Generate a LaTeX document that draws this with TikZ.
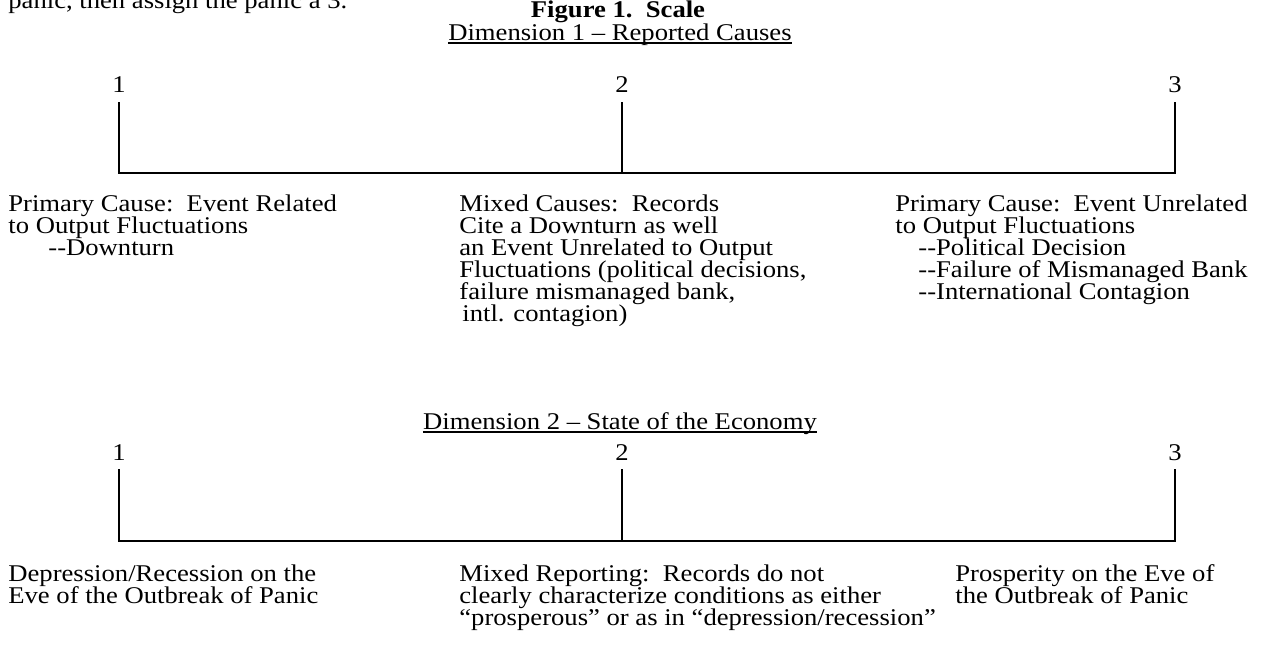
\documentclass[tikz,border=0pt]{standalone}
\usepackage{fontspec}
\setmainfont{Liberation Serif}[FakeStretch=1.11]
% lines at a fixed distance, baseline of the first line
\newcommand{\sorok}[1]{\vtop{\baselineskip=11pt\lineskiplimit=-100pt
  \let\\=\cr\halign{##\hfil\cr#1\crcr}}}
\tikzset{
  szam/.style={anchor=base,inner sep=0pt},
  cim/.style={anchor=base,inner sep=0pt},
  blokk/.style={anchor=base west,inner sep=0pt},
  vonal/.style={line width=0.8pt},
  alah/.style={line width=0.6pt},
}

\begin{document}
\begin{tikzpicture}[x=0.5pt,y=-0.5pt,font=\fontsize{12}{11}\selectfont]
  \useasboundingbox (0,0) rectangle (1270,649);
  \clip (0,0) rectangle (1270,649);
  % line of the page above, cut by the edge
  \node[blokk] (elo) at (8,8) {panic, then assign the panic a 3.};
  \node[cim,font=\fontsize{12}{11}\selectfont\bfseries] (fig) at (618,17) {Figure 1.\ \ Scale};

  % Dimension 1
  \node[cim] (dim1) at (620,40) {Dimension 1 -- Reported Causes};
  \draw[alah] ([yshift=-1.5pt]dim1.base west) -- ([yshift=-1.5pt]dim1.base east);
  \foreach \n/\x in {1/119,2/622,3/1175}{
    \node[szam] (a\n) at (\x,92) {\n};
    \coordinate (ta\n) at (\x,102);
    \coordinate (ba\n) at (\x,173);
  }
  \draw[vonal] (ta1) -- (ba1) -- (ba3) -- (ta3);
  \draw[vonal] (ta2) -- (ba2);
  \node[blokk] (ka1) at (8,211) {\sorok{Primary Cause:\ \ Event Related\\
    to Output Fluctuations\\
    \hspace*{20pt}-{}-Downturn}};
  \node[blokk] (ka2) at (459,211) {\sorok{Mixed Causes:\ \ Records\\
    Cite a Downturn as well\\
    an Event Unrelated to Output\\
    Fluctuations (political decisions,\\
    failure mismanaged bank,\\
    \hspace*{1.5pt}intl. contagion)}};
  \node[blokk] (ka3) at (895,211) {\sorok{Primary Cause:\ \ Event Unrelated\\
    to Output Fluctuations\\
    \hspace*{11.5pt}-{}-Political Decision\\
    \hspace*{11.5pt}-{}-Failure of Mismanaged Bank\\
    \hspace*{11.5pt}-{}-International Contagion}};

  % Dimension 2
  \node[cim] (dim2) at (620,429) {Dimension 2 -- State of the Economy};
  \draw[alah] ([yshift=-1.5pt]dim2.base west) -- ([yshift=-1.5pt]dim2.base east);
  \foreach \n/\x in {1/119,2/622,3/1175}{
    \node[szam] (b\n) at (\x,460) {\n};
    \coordinate (tb\n) at (\x,469);
    \coordinate (bb\n) at (\x,541);
  }
  \draw[vonal] (tb1) -- (bb1) -- (bb3) -- (tb3);
  \draw[vonal] (tb2) -- (bb2);
  \node[blokk] (kb1) at (8,581) {\sorok{Depression/Recession on the\\
    Eve of the Outbreak of Panic}};
  \node[blokk] (kb2) at (459,581) {\sorok{Mixed Reporting:\ \ Records do not\\
    clearly characterize conditions as either\\
    “prosperous” or as in “depression/recession”}};
  \node[blokk] (kb3) at (955,581) {\sorok{Prosperity on the Eve of\\
    the Outbreak of Panic}};
\end{tikzpicture}
\end{document}
